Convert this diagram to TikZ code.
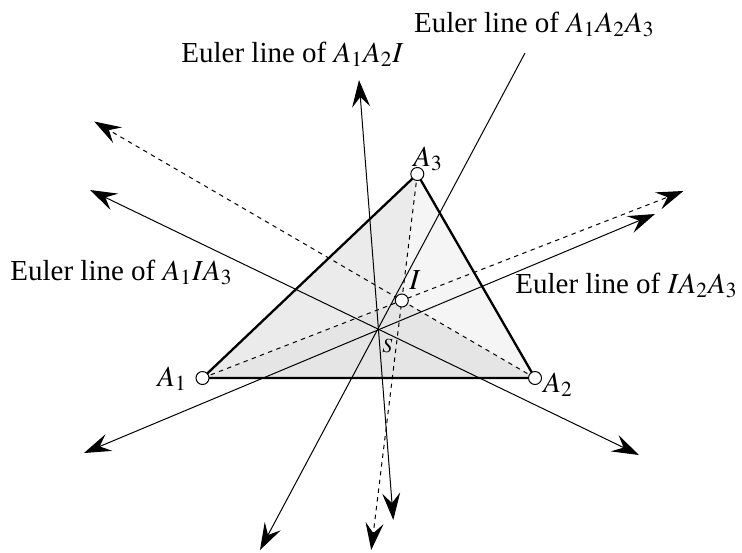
\documentclass[tikz,border=0pt]{standalone}
\usepackage{mathptmx}
\usepackage[no-math]{fontspec}
\setmainfont{Liberation Serif}
\usetikzlibrary{arrows.meta,calc}
\begin{document}
\begin{tikzpicture}[x=0.5pt,y=-0.5pt,
  thinline/.style={line width=0.5pt},
  dashline/.style={line width=0.5pt, dash pattern=on 2.2pt off 2.2pt},
  endtip/.style={-{Stealth[length=13.5pt,width=9pt,inset=5pt]}},
  bothtips/.style={{Stealth[length=13.5pt,width=9pt,inset=5pt]}-{Stealth[length=13.5pt,width=9pt,inset=5pt]}},
  vtx/.style={circle, draw, fill=white, line width=0.5pt, inner sep=0pt, minimum size=6.5pt},
  lbl/.style={font=\fontsize{14.5}{17}\selectfont, inner sep=0pt, anchor=base west},
  slbl/.style={font=\fontsize{10}{12}\selectfont, inner sep=0pt, anchor=base west}]
\useasboundingbox (0,0) rectangle (742,552);
% points
\coordinate (A1) at (202.5,378);
\coordinate (A2) at (535,378);
\coordinate (A3) at (417.3,174);
\coordinate (I) at (401.8,300.5);
\coordinate (S) at (377.5,329);
% shading
\fill[black!8] (A1) -- (A3) -- (I) -- cycle;
\fill[black!10] (A1) -- (A2) -- (I) -- cycle;
\fill[black!4] (I) -- (A2) -- (A3) -- cycle;
% Euler line ends
\coordinate (e1a) at (359,80);
\coordinate (e1b) at (393.3,520);
\coordinate (e2a) at (525,53);
\coordinate (e2b) at (260,550);
\coordinate (e3a) at (90,190);
\coordinate (e3b) at (639,455);
\coordinate (e4a) at (84,453);
\coordinate (e4b) at (655,214);
% bisector ends
\coordinate (d1) at ($(A1)!2.413!(I)$);
\coordinate (d2) at ($(A2)!3.309!(I)$);
\coordinate (d3) at ($(A3)!2.972!(I)$);
% dashed lines
\draw[dashline,endtip] (A1) -- (d1);
\draw[dashline,endtip] (A2) -- (d2);
\draw[dashline,endtip] (A3) -- (d3);
% Euler lines
\draw[thinline,bothtips] (e1a) -- (e1b);
\draw[thinline,endtip] (e2a) -- (e2b);
\draw[thinline,bothtips] (e3a) -- (e3b);
\draw[thinline,bothtips] (e4a) -- (e4b);
% triangle
\draw[line width=1.15pt,line join=miter] (A1) -- (A2) -- (A3) -- cycle;
% vertices
\node[vtx] (nA1) at (A1) {};
\node[vtx] (nA2) at (A2) {};
\node[vtx] (nA3) at (A3) {};
\node[vtx] (nI) at (I) {};
% labels
\node[lbl] (tA1) at (157,386) {$A_1$};
\node[lbl] (tA2) at (543,392) {$A_2$};
\node[lbl] (tA3) at (413,166) {$A_3$};
\node[lbl] (tI) at (409,289) {$I$};
\node[slbl] (tS) at (382,352) {$S$};
\node[lbl] (l1) at (181,62) {Euler line of $A_1A_2I$};
\node[lbl,anchor=base east] (l2) at (655,32) {Euler line of $A_1A_2A_3$};
\node[lbl] (l3) at (10,280) {Euler line of $A_1IA_3$};
\node[lbl,anchor=base east] (l4) at (738,293) {Euler line of $IA_2A_3$};
\end{tikzpicture}
\end{document}
